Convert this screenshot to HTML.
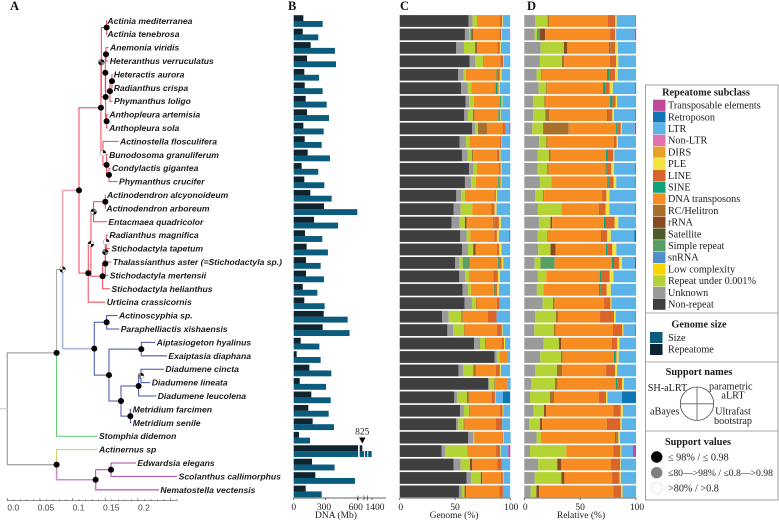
<!DOCTYPE html>
<html lang="en">
<head>
<meta charset="utf-8">
<title>Repeatome chart</title>
<style>
html,body{margin:0;padding:0;background:#fff;width:779px;height:521px;overflow:hidden}
svg{display:block;position:absolute;left:0;top:0;filter:blur(.3px)}
.sp{font:italic bold 8.6px "Liberation Sans",sans-serif;fill:#1a1a1a}
.se{font-family:"Liberation Serif",serif;fill:#1c1c1c}
.lg{font-size:10.2px}
.lt{font-size:10.3px;font-weight:bold;text-anchor:middle}
.pl{font-size:12.5px;font-weight:bold;fill:#111}
.tk{font-size:9.5px;text-anchor:middle}
.sc{font:8.5px "Liberation Sans",sans-serif;fill:#444;text-anchor:middle}
</style>
</head>
<body>
<svg id="fig" width="779" height="521" viewBox="0 0 779 521" xmlns="http://www.w3.org/2000/svg">
  <text class="se pl" x="10" y="10">A</text>
  <text class="se pl" x="288" y="10">B</text>
  <text class="se pl" x="400" y="10">C</text>
  <text class="se pl" x="527" y="10">D</text>
  <g id="tree"></g>
  <g id="scale"></g>
  <g id="panelB"></g>
  <g id="panelC"></g>
  <g id="panelD"></g>

  <g id="legend">
    <rect x="645.5" y="85" width="132.5" height="415" fill="#fff" stroke="#8a8a8a" stroke-width="0.8"/>
    <line x1="645.5" x2="778" y1="313" y2="313" stroke="#8a8a8a" stroke-width="0.8"/>
    <line x1="645.5" x2="778" y1="362" y2="362" stroke="#8a8a8a" stroke-width="0.8"/>
    <line x1="645.5" x2="778" y1="431" y2="431" stroke="#8a8a8a" stroke-width="0.8"/>
    <text class="se lt" x="706" y="95.5">Repeatome subclass</text>
    <g id="legendRows"></g>
    <text class="se lt" x="699" y="327.5">Genome size</text>
    <rect x="650" y="332" width="12.5" height="11" fill="#0b5b7c"/>
    <text class="se lg" x="668" y="341">Size</text>
    <rect x="650" y="344" width="12.5" height="11" fill="#0e2430"/>
    <text class="se lg" x="668" y="352.5">Repeatome</text>
    <text class="se lt" x="699" y="375">Support names</text>
    <circle cx="697" cy="403.7" r="16.7" fill="none" stroke="#444" stroke-width="0.8"/>
    <line x1="680.3" x2="713.7" y1="403.7" y2="403.7" stroke="#777"/>
    <line x1="697" x2="697" y1="387" y2="420.4" stroke="#777"/>
    <text class="se lg" x="647.7" y="391">SH-aLRT</text>
    <text class="se lg" x="709" y="389.5">parametric</text>
    <text class="se lg" x="733" y="398.5" text-anchor="middle">aLRT</text>
    <text class="se lg" x="650" y="414.5">aBayes</text>
    <text class="se lg" x="733" y="414.5" text-anchor="middle">Ultrafast</text>
    <text class="se lg" x="733" y="424" text-anchor="middle">bootstrap</text>
    <text class="se lt" x="698" y="445">Support values</text>
    <circle cx="656.7" cy="457" r="5.7" fill="#000"/>
    <text class="se lg" x="668" y="460.5">≤ 98% / ≤ 0.98</text>
    <circle cx="656.7" cy="472.7" r="5.7" fill="#808080"/>
    <text class="se lg" x="668" y="476" style="font-size:9.7px">≤80—&gt;98% / ≤0.8—&gt;0.98</text>
    <circle cx="656.7" cy="488.3" r="5.7" fill="#fff" stroke="#ddd" stroke-width="0.7"/>
    <text class="se lg" x="668" y="491.5">&gt;80% / &gt;0.8</text>
  </g>
</svg>
<script>
/* ---------- categories ---------- */
const species = ["Actinia mediterranea","Actinia tenebrosa","Anemonia viridis","Heteranthus verruculatus","Heteractis aurora","Radianthus crispa","Phymanthus loligo","Anthopleura artemisia","Anthopleura sola","Actinostella flosculifera","Bunodosoma granuliferum","Condylactis gigantea","Phymanthus crucifer","Actinodendron alcyonoideum","Actinodendron arboreum","Entacmaea quadricolor","Radianthus magnifica","Stichodactyla tapetum","Thalassianthus aster (=Stichodactyla sp.)","Stichodactyla mertensii","Stichodactyla helianthus","Urticina crassicornis","Actinoscyphia sp.","Paraphelliactis xishaensis","Aiptasiogeton hyalinus","Exaiptasia diaphana","Diadumene cincta","Diadumene lineata","Diadumene leucolena","Metridium farcimen","Metridium senile","Stomphia didemon","Actinernus sp","Edwardsia elegans","Scolanthus callimorphus","Nematostella vectensis"];
const tipDepth = [.1511,.1511,.1552,.1547,.1608,.1608,.1613,.1542,.1537,.1705,.1537,.1582,.1690,.1506,.1496,.1526,.1542,.1572,.1593,.1547,.1572,.1501,.1690,.1715,.2266,.2445,.2399,.2190,.2282,.1899,.1899,.1383,.1383,.1970,.2603,.2323];

/* ---------- panel B: DNA in Mb ---------- */
const repeatomeMb = [91,85,160,126,100,104,113,126,91,104,132,75,100,157,286,192,107,122,116,116,85,100,283,273,66,28,148,57,166,138,179,50,825,173,204,113];
const sizeMb = [273,232,389,399,239,273,311,333,283,264,342,232,289,358,600,418,270,323,254,286,223,292,509,527,242,254,355,305,349,330,380,154,1380,386,578,264];
const dnaTicks = [0,300,600,1400];

/* ---------- panel C: % of genome ---------- */
const gNonRepeat = [62.3,59,50.9,63.3,52.7,55.4,59.6,58.4,65.4,54.2,56.3,62.7,59,51.2,48.8,47,54.8,56.3,50,53.9,56.9,58.7,38.3,43.1,67.2,85.8,53.3,80.1,49.4,54.5,50.9,62,38,48.8,60.5,53.6];
const gUnknown = [3.6,3.9,7.2,5.1,5.1,6,3.3,3.3,2.7,5.7,5.1,4.2,5.7,4.5,6.3,7.2,5.7,5.4,4.2,5.4,4.8,6.6,6,5.1,5.4,2.1,4.2,1,2.7,3.6,2.1,4.5,3,6.3,3.9,2.7];
const gLowCopy = [4.2,.9,10.2,7.2,2.1,3.3,4.2,4.5,2.7,3,3.9,3,4.2,3.3,10.5,4.8,3.3,4.8,2.7,3.3,2.7,3.6,11.4,9.9,4.5,2.4,9,4.5,8.7,4.5,4.8,1,19.9,8.4,9,2.4];
const gSimple = [0,1.2,0,0,0,0,0,0,0,0,0,0,0,0,0,0,0,0,6.6,0,0,0,0,0,0,0,0,0,0,0,0,0,0,0,0,0];
const gSnrna = [0,0,0,0,0,0,0,0,0,0,0,0,0,0,0,0,0,0,0,0,0,0,0,0,0,0,0,0,0,0,0,0,0,0,0,0];
const gRrna = [0,1.2,1.5,0,0,0,0,0,0,0,0,0,0,0,0,1.5,0,2.1,0,0,0,0,0,0,0,0,0,0,0,0,0,0,0,2.1,1.2,1.2];
const gRc = [.6,0,0,.6,0,0,0,1.5,8.1,0,1.2,0,0,0,0,0,0,0,0,0,0,.6,1.2,.6,.6,0,2.4,.6,1.8,.6,.9,0,0,0,0,0];
const gDna = [19.9,24.1,18.4,14.8,27.7,22,23.5,21.4,14.5,27.7,21.4,19.6,20.2,26.5,17.2,24.1,21.7,19.3,25.3,22,20.8,18.4,22.9,29.2,14.8,6.9,18.1,10.5,20.5,27.4,28,25.3,26.2,22.6,16.9,30.1];
const gSine = [0,0,.6,0,.9,1.5,.9,.6,0,0,.6,0,.9,0,0,.9,0,0,.9,.6,.6,0,0,0,0,0,0,0,0,0,0,0,0,0,0,0];
const gLine = [2.1,1.5,1.8,2.4,2.1,1.2,.6,1.2,1.8,1.2,1.8,1.8,1.2,1.5,3,4.2,2.4,2.1,2.4,3.6,2.4,2.4,7.8,4.5,1.8,.6,3.6,.6,3,2.4,6,.9,3.6,3.9,1.8,3.3];
const gPle = [.6,.6,.9,.6,1.5,1.2,.9,.6,0,.3,.9,.9,.9,.9,1.8,1.8,1.8,2.1,1.5,1.8,1.5,0,0,.6,.9,0,.9,0,.6,.6,0,.6,.6,0,.6,0];
const gLtr = [6.6,7.2,8.4,6,7.8,9.3,6.9,8.4,3.9,7.8,8.7,7.8,7.8,12,12.3,8.4,9.6,7.8,6.3,9.3,10.2,9.6,12.3,6.9,4.8,2.1,8.4,3,6.6,6.3,7.2,6,6.9,7.8,6,6.6];
const gRetro = [0,0,0,0,0,0,0,0,0,0,0,0,0,0,0,0,.6,0,0,0,0,0,0,0,0,0,0,0,6.6,0,0,0,0,0,0,0];
const gTe = [0,.3,0,0,0,0,0,0,.9,0,0,0,0,0,0,0,0,0,0,0,0,0,0,0,0,0,0,0,0,0,0,0,1.8,0,0,0];

/* ---------- panel D: % of repeatome ---------- */
const rUnknown = [9.6,9.3,14.6,14,11,12.8,8.1,7.8,7.2,13.4,11.9,11.9,14,9.6,12.2,13.1,11.9,12.5,9.3,12.2,11.3,16.4,9.6,9,17.3,14.3,9.9,6,5.1,8.4,4.5,11,5.1,12.5,9.3,5.7];
const rLowCopy = [11.3,2.1,20.9,19.7,3.9,6.9,9.9,11,9.6,6.3,10.1,8.7,10.1,7.2,20.9,10.4,8.7,11,5.1,7.5,5.7,9.3,18.8,17.6,13.7,18.5,19.4,21.5,17.9,9.3,9.6,3.9,32.5,17,23.9,5.1];
const rSimple = [0,2.7,0,0,0,0,0,0,0,0,0,0,0,0,0,0,0,0,12.8,0,0,0,0,0,0,0,0,0,0,0,0,0,0,0,0,0];
const rSnrna = [0,0,0,0,0,0,0,0,0,0,0,0,0,.9,0,0,0,0,0,0,0,0,0,0,0,0,0,0,0,0,0,0,0,0,0,0];
const rRrna = [0,4.5,3,0,0,0,0,0,0,0,0,0,0,0,0,1.5,0,4.5,0,0,0,0,0,0,2.1,0,0,0,0,1.8,1.8,0,0,3.6,2.7,2.4];
const rRc = [1.5,0,0,2.1,.6,.9,1.2,3.3,23,1.2,1.5,1.2,0,0,0,0,.6,0,0,0,0,1.5,1.8,1.5,0,1.5,4.5,2.4,3.6,0,0,0,0,0,0,0];
const rDna = [52.5,58.2,37.3,40.6,58.5,49.9,57.6,51.9,42.4,59.4,49.6,51,50.1,51.9,33.7,46.3,47.5,45.1,51.3,47.8,49.9,44.2,37.6,51.3,45.4,46,39.4,51.9,40,60.3,57.9,66.3,42.1,44.5,42.7,66.6];
const rSine = [0,0,1.2,0,1.8,1.8,2.1,.9,.9,0,1.8,.9,1.5,0,.9,1.8,.9,1.5,1.8,1.2,1.5,0,0,0,0,.9,0,1.8,0,0,0,1.2,0,.6,0,0];
const rLine = [6.6,4.5,4.2,5.7,5.4,4.2,3,3.9,3.3,2.4,4.8,4.2,4.2,3.9,5.1,7.8,4.5,4.2,4.5,7.8,5.4,5.7,12.5,8.4,4.5,1.5,8.1,3.9,6.6,6.6,12.2,1.8,6.3,7.5,6.6,6.9];
const rPle = [1.2,.9,2.7,2.1,2.4,2.7,1.2,1.5,.9,1.2,.9,2.4,2.4,2.7,3.3,3.3,3.3,3.6,2.7,3.3,3.6,.9,1.5,.9,2.1,1.8,1.8,1.5,1.2,1.8,1.2,1.5,.9,.6,1.2,1.2];
const rLtr = [16.7,16.7,16.1,15.8,16.4,20.3,17,19.1,11.6,16.1,19.4,19.1,17,23.9,23.3,15.8,21.2,17.6,11.6,20.3,22.7,22.1,17.6,10.7,14.9,15.5,17,11,13.1,11.9,12.8,14.3,10.4,13.7,13.7,12.2];
const rRetro = [0,0,0,0,0,.6,0,.6,0,0,0,.6,.6,0,.6,0,1.5,0,.9,0,0,0,0,.6,0,0,0,0,12.5,0,0,0,0,0,0,0];
const rTe = [.6,1.2,0,0,0,0,0,0,1.2,0,0,0,0,0,0,0,0,0,0,0,0,0,.6,0,0,0,0,0,0,0,0,0,2.7,0,0,0];

const percentTicks = [0,50,100];
const scaleTicks = [0,.05,.1,.15,.2];

/* ---------- legend ---------- */
const subclassNames = ["Transposable elements","Retroposon","LTR","Non-LTR","DIRS","PLE","LINE","SINE","DNA transposons","RC/Helitron","rRNA","Satellite","Simple repeat","snRNA","Low complexity","Repeat under 0.001%","Unknown","Non-repeat"];
const subclassColors = ["#c0499a","#0f75b5","#5cb3e8","#e36fb0","#e8a128","#f2e33d","#d9652a","#0ea37a","#f78c22","#a87129","#8a4a22","#4f5b28","#5a9f62","#4f90cc","#ffd500","#b4d334","#9a9a9a","#3f3f3f"];
const colorOf = {};
subclassNames.forEach(function(n,i){colorOf[n]=subclassColors[i];});

const genomeSeries = [["Non-repeat",gNonRepeat],["Unknown",gUnknown],["Repeat under 0.001%",gLowCopy],["snRNA",gSnrna],["Simple repeat",gSimple],["rRNA",gRrna],["RC/Helitron",gRc],["DNA transposons",gDna],["SINE",gSine],["LINE",gLine],["PLE",gPle],["LTR",gLtr],["Retroposon",gRetro],["Transposable elements",gTe]];
const relativeSeries = [["Unknown",rUnknown],["Repeat under 0.001%",rLowCopy],["snRNA",rSnrna],["Simple repeat",rSimple],["rRNA",rRrna],["RC/Helitron",rRc],["DNA transposons",rDna],["SINE",rSine],["LINE",rLine],["PLE",rPle],["LTR",rLtr],["Retroposon",rRetro],["Transposable elements",rTe]];

/* ---------- tree topology (d = substitutions per site) ---------- */
const RED="#f0445a", BLUE="#4150ad", PUR="#b23fa6", GRY="#a5a5a5";
const black=0, gray=1, white=2;
const treeRoot = {d:0,c:GRY,kids:[
 {d:.0755,c:GRY,w:1.3,kids:[
  {d:.0847,c:GRY,pie:[white,black,black,white],kids:[
   {d:.1098,c:"#eeaab3",w:1.6,kids:[
    {d:.1434,c:RED,kids:[
     {d:.1440,c:RED,pie:[gray,black,black,gray],kids:[
      {d:.1521,c:RED,kids:[{t:0},{t:1}]},
      {d:.1506,c:RED,kids:[
       {d:.1501,c:RED,kids:[
        {d:.1511,c:RED,kids:[{t:2},{t:3}]},
        {d:.1572,c:RED,kids:[{d:.1603,c:RED,kids:[{t:4},{t:5}]},{t:6}]}
       ]},
       {d:.1521,c:RED,kids:[{t:7},{t:8}]}
      ]}
     ]},
     {d:.1465,c:RED,pie:[white,black,white,white],kids:[
      {t:9},
      {d:.1521,c:RED,kids:[{t:10},{d:.1557,c:RED,kids:[{t:11},{t:12}]}]}
     ]}
    ]},
    {d:.1240,c:RED,kids:[
     {d:.1281,c:RED,pie:[black,white,white,black],kids:[
      {d:.1322,c:RED,pie:[black,gray,white,black],kids:[
       {d:.1501,c:RED,kids:[{t:13},{t:14}]},
       {t:15}
      ]},
      {d:.1460,c:RED,kids:[
       {d:.1501,c:RED,kids:[
        {d:.1501,c:RED,pie:[gray,black,black,gray],kids:[
         {d:.1516,c:RED,pie:[white,black,white,white],kids:[{t:16},{t:17}]},
         {t:18}
        ]},
        {t:19}
       ]},
       {t:20}
      ]}
     ]},
     {t:21,c:"#f2707f",w:1.3}
    ]}
   ]},
   {d:.1332,c:"#aeb6dc",w:1.6,kids:[
    {d:.1521,c:BLUE,kids:[{t:22},{t:23,c:"#6c78c0",w:1.3}]},
    {d:.1557,c:BLUE,kids:[
     {d:.2052,c:BLUE,kids:[{t:24},{t:25,c:"#6c78c0",w:1.3}]},
     {d:.1741,c:BLUE,kids:[
      {d:.2011,c:BLUE,kids:[
       {d:.2047,c:BLUE,pie:[gray,black,gray,white],kids:[{t:26},{t:27}]},
       {t:28}
      ]},
      {d:.1884,c:BLUE,kids:[{t:29},{t:30}]}
     ]}
    ]}
   ]}
  ]},
  {t:31,c:"#58c76a"}
 ]},
 {d:.0755,c:GRY,w:1.3,kids:[
  {t:32,c:"#d3c860"},
  {d:.1353,c:"#c890c8",w:1.6,kids:[
   {d:.1588,c:PUR,kids:[{t:33},{t:34}]},
   {t:35,c:"#c67cc2",w:1.6}
  ]}
 ]}
]};

/* ---------- helpers ---------- */
const NS = "http://www.w3.org/2000/svg";
function el(parent,tag,attrs,txt){
  const e=document.createElementNS(NS,tag);
  for(const k in attrs)e.setAttribute(k,attrs[k]);
  if(txt!==undefined)e.textContent=txt;
  parent.appendChild(e);
  return e;
}
function lerpPiece(dom,rng,v){
  for(let i=0;i<dom.length-1;i++){
    if(v<=dom[i+1]||i===dom.length-2){
      return rng[i]+(v-dom[i])*(rng[i+1]-rng[i])/(dom[i+1]-dom[i]);
    }
  }
}
const labelY = function(i){return 20.8+i*13.4;};
const barY = function(i){return 21+i*13.44;};
const xTree = function(d){return 7.3+d*653;};
const xDna = function(v){return lerpPiece([0,600,825,1400,1800],[293.7,357.3,362.3,372,386],v);};
const xGenome = function(v){return 399.7+v*1.106;};
const xRelative = function(v){return 524.3+v*1.117;};

/* ---------- legend rows ---------- */
const legendRows=document.getElementById("legendRows");
subclassNames.forEach(function(n,i){
  const y=105.3+i*11.7;
  const s=el(legendRows,"rect",{x:653,y:y-5.6,width:12.5,height:11.2,fill:subclassColors[i]});
  
  
  const t=el(legendRows,"text",{x:668,y:y+3.3,"class":"se lg"},n);
  
  
});

/* ---------- tree ---------- */
const treeG=document.getElementById("tree");
const linesG=el(treeG,"g",{});


const dotsG=el(treeG,"g",{});


const tipsG=el(treeG,"g",{});



function layout(n){
  if(n.t!==undefined){n.x=xTree(tipDepth[n.t]);n.y=labelY(n.t);return;}
  n.x=xTree(n.d);
  n.kids.forEach(layout);
  n.y=(n.kids[0].y+n.kids[n.kids.length-1].y)/2;
}
layout(treeRoot);
function quadPath(cx,cy,r,q){
  const sx=[-1,1,-1,1][q], sy=[-1,-1,1,1][q];
  const sweep=(q===0||q===3)?1:0;
  return "M"+cx+" "+cy+"L"+(cx+sx*r)+" "+cy+"A"+r+" "+r+" 0 0 "+sweep+" "+cx+" "+(cy+sy*r)+"Z";
}
function drawMark(n){
  if(n.pie){
    const pieColors=["#000","#808080","#fff"];
    n.pie.forEach(function(v,q){
      const p=el(dotsG,"path",{d:quadPath(n.x,n.y,3,q),fill:pieColors[v]});
      
      
    });
    const o=el(dotsG,"circle",{cx:n.x,cy:n.y,r:3,fill:"none",stroke:"#555","stroke-width":.4});
    
    
  } else {
    const c=el(dotsG,"circle",{cx:n.x,cy:n.y,r:3,fill:"#000"});
    
    
  }
}
function drawTree(n,inherited){
  n.kids.forEach(function(k){
    const col=k.c||n.c||inherited;
    const w=k.w||1;
    const v=el(linesG,"path",{d:"M"+n.x+" "+n.y+"V"+k.y+"H"+k.x,fill:"none",stroke:col,"stroke-width":w});
    
    
    if(k.t!==undefined){
      const t=el(tipsG,"text",{x:k.x+1.4,y:k.y+3,"class":"sp"},species[k.t]);
      
      
    } else {
      drawTree(k,col);
      drawMark(k);
    }
  });
}
drawTree(treeRoot,GRY);
const stub=el(linesG,"line",{x1:0,x2:treeRoot.x,y1:treeRoot.y,y2:treeRoot.y,stroke:"#c4c4c4","stroke-width":1});



/* ---------- scale bar ---------- */
const scaleG=document.getElementById("scale");
const scaleLine=el(scaleG,"line",{x1:xTree(0),x2:xTree(.26),y1:500.7,y2:500.7,stroke:"#555","stroke-width":.7});


for(let i=0;i<=26;i++){
  const major=i%5===0;
  const tick=el(scaleG,"line",{x1:xTree(i/100),x2:xTree(i/100),y1:500.7,y2:major?498:499.2,stroke:"#555","stroke-width":.6});
  
  
}
scaleTicks.forEach(function(v){
  const t=el(scaleG,"text",{x:xTree(v)+6,y:510.5,"class":"sc"},v===0?"0.0":String(v));
  
  
});

/* ---------- panel B ---------- */
const gB=document.getElementById("panelB");
species.forEach(function(s,i){
  const y=barY(i);
  const a=el(gB,"rect",{x:xDna(0),y:y-5.8,width:xDna(repeatomeMb[i])-xDna(0),height:5.9,fill:"#0e2430"});
  
  
  const b=el(gB,"rect",{x:xDna(0),y:y,width:xDna(sizeMb[i])-xDna(0),height:5.9,fill:"#0b5b7c"});
  
  
});
const breakMarks=[[358,1.7],[364,.9],[367.3,.9]];
const oversizedRow=32;
breakMarks.forEach(function(m){
  const w=el(gB,"rect",{x:m[0],y:barY(oversizedRow)-6.5,width:m[1],height:13,fill:"#fff"});
  
  
  const t=el(gB,"line",{x1:m[0],x2:m[0],y1:495.5,y2:500.5,stroke:"#333","stroke-width":.7});
  
  
});
const breakLabel=el(gB,"text",{x:xDna(825),y:434.5,"class":"se tk"},"825");


const arrowX=xDna(825);
const arrow=el(gB,"path",{d:"M"+(arrowX-3.2)+" 437.5H"+(arrowX+3.2)+"L"+arrowX+" 443.5Z",fill:"#000"});


const axB=el(gB,"line",{x1:xDna(0),x2:xDna(1800),y1:498,y2:498,stroke:"#333","stroke-width":.8});


dnaTicks.forEach(function(v){
  const t=el(gB,"line",{x1:xDna(v),x2:xDna(v),y1:498,y2:500,stroke:"#333","stroke-width":.7});
  
  
  const off=v===0?0:(v===1400?3:-1.5);
  const l=el(gB,"text",{x:xDna(v)+off,y:510,"class":"se tk"},String(v));
  
  
});
const titleB=el(gB,"text",{x:336,y:518,"class":"se tk"},"DNA (Mb)");



/* ---------- stacked panels ---------- */
function drawStack(g,series,xs,title,titleX,tickOffsets){
  species.forEach(function(s,i){
    let acc=0;
    const y=barY(i);
    series.forEach(function(sr){
      const v=sr[1][i];
      if(v>0){
        const r=el(g,"rect",{x:xs(acc),y:y-5.9,width:xs(acc+v)-xs(acc),height:11.8,fill:colorOf[sr[0]]});
        
        
      }
      acc+=v;
    });
  });
  const ax=el(g,"line",{x1:xs(0),x2:xs(100),y1:498,y2:498,stroke:"#333","stroke-width":.8});
  
  
  percentTicks.forEach(function(v,k){
    const t=el(g,"line",{x1:xs(v),x2:xs(v),y1:498,y2:500,stroke:"#333","stroke-width":.7});
    
    
    const l=el(g,"text",{x:xs(v)+tickOffsets[k],y:510,"class":"se tk"},String(v));
    
    
  });
  const tt=el(g,"text",{x:titleX,y:518,"class":"se tk"},title);
  
  
}
drawStack(document.getElementById("panelC"),genomeSeries,xGenome,"Genome (%)",454,[1,0,1]);
drawStack(document.getElementById("panelD"),relativeSeries,xRelative,"Relative (%)",581,[1,0,1]);
</script>
</body>
</html>
